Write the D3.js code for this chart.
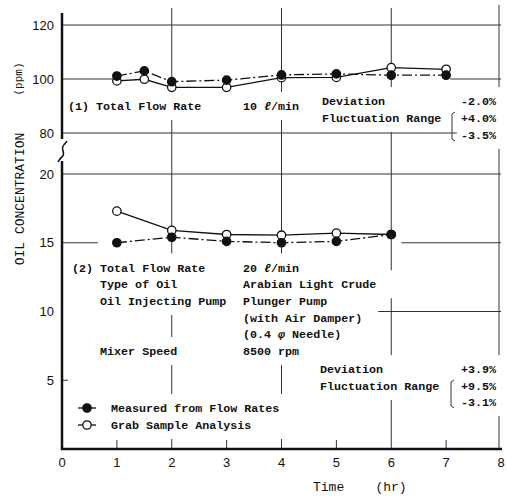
<!DOCTYPE html>
<html lang="en">
<head>
<meta charset="UTF-8">
<title>Oil Concentration</title>
<style>
  body { margin: 0; background: #fff; }
  svg { display: block; }
  .note { font-family: "Liberation Mono", "DejaVu Sans Mono", monospace; font-size: 11.7px; font-weight: bold; fill: #111; white-space: pre; }
  .tick { font-family: "Liberation Sans", Arial, sans-serif; font-size: 13px; fill: #111; }
  .label { font-family: "Liberation Mono", "DejaVu Sans Mono", monospace; font-size: 13px; fill: #111; white-space: pre; }
</style>
<script src="https://cdn.jsdelivr.net/npm/d3@7/dist/d3.min.js"></script>
</head>
<body>
<svg id="chart" width="507" height="497"></svg>
<script>
// upper panel (1): 10 l/min
var hoursTop = [1, 1.5, 2, 3, 4, 5, 6, 7];
var measuredTop = [101.1, 103.0, 99.0, 99.6, 101.5, 101.9, 101.4, 101.4];
var grabTop = [99.3, 99.9, 96.9, 96.9, 100.5, 100.6, 104.2, 103.6];

// lower panel (2): 20 l/min
var hoursBottom = [1, 2, 3, 4, 5, 6];
var measuredBottom = [15.0, 15.4, 15.1, 15.0, 15.1, 15.6];
var grabBottom = [17.3, 15.9, 15.6, 15.55, 15.7, 15.6];

var timeTicks = [0, 1, 2, 3, 4, 5, 6, 7, 8];
var topTicks = [80, 100, 120];
var bottomTicks = [5, 10, 15, 20];
var gridHours = [2, 4, 6];
var minorHours = [1, 3, 5, 7];

var legendNames = ["Measured from Flow Rates", "Grab Sample Analysis"];

var svg = d3.select("#chart");
var x = d3.scaleLinear().domain([0, 8]).range([62, 501]);
var yTop = d3.scaleLinear().domain([80, 120]).range([133, 25]);
var yBot = d3.scaleLinear().domain([0, 20]).range([449, 174]);

var gGrid = svg.append("g").attr("stroke", "#333").attr("stroke-width", 1);
var gMask = svg.append("g").attr("fill", "#fff");
var gAxis = svg.append("g").attr("stroke", "#111");
var gData = svg.append("g");
var gText = svg.append("g");

function hline(y, x0, x1) {
  gGrid.append("line").attr("x1", x0).attr("x2", x1).attr("y1", y).attr("y2", y);
}

// horizontal grid
hline(yTop(120), x(0), x(8));
hline(yTop(80), x(0), x(8));
hline(yTop(100), x(0), x(hoursTop[0]) - 4);
hline(yTop(100), x(hoursTop[hoursTop.length - 1]) + 4, x(8));
hline(yBot(20), x(0), x(8));
hline(yBot(15), x(0), x(hoursBottom[0]) - 19);
hline(yBot(15), x(hoursBottom[hoursBottom.length - 1]) + 10, x(8));
hline(yBot(10), x(0), x(8));
hline(yBot(5), x(0), x(0) + 6);

// vertical grid + right border
gridHours.forEach(function(h) {
  gGrid.append("line").attr("x1", x(h)).attr("x2", x(h)).attr("y1", 8).attr("y2", yBot(0));
});
gGrid.append("line").attr("x1", x(8) - 2).attr("x2", x(8) - 2).attr("y1", 5).attr("y2", yBot(0));
minorHours.forEach(function(h) {
  gGrid.append("line").attr("x1", x(h)).attr("x2", x(h)).attr("y1", yBot(0) - 9).attr("y2", yBot(0));
});

// notes with white backing boxes
function note(px, py, str, anchor, padX) {
  var t = gText.append("text").attr("class", "note")
    .attr("x", px).attr("y", py).attr("dy", "0.35em")
    .attr("text-anchor", anchor || "start");
  str.split("_").forEach(function(part, i) {
    t.append("tspan").attr("font-style", i % 2 ? "italic" : null).text(part);
  });
  var b = t.node().getBBox();
  var p = padX == null ? 14 : padX;
  gMask.append("rect").attr("x", b.x - p).attr("y", py - 14)
    .attr("width", b.width + 2 * p).attr("height", 28);
}

note(68, 106, "(1) Total Flow Rate");
note(243, 106, "10 _ℓ_/min");
note(322, 101, "Deviation");
note(322, 118, "Fluctuation Range");
note(496, 101, "-2.0%", "end", 4);
note(496, 118, "+4.0%", "end", 4);
note(496, 135, "-3.5%", "end", 4);

var rowsBottom = [
  ["(2) Total Flow Rate", "20 _ℓ_/min"],
  ["    Type of Oil", "Arabian Light Crude"],
  ["    Oil Injecting Pump", "Plunger Pump"],
  ["", "(with Air Damper)"],
  ["", "(0.4 _φ_ Needle)"],
  ["    Mixer Speed", "8500 rpm"]
];
rowsBottom.forEach(function(r, i) {
  var py = 267.5 + i * 16.7;
  if (r[0]) note(72, py, r[0]);
  note(243, py, r[1], "start", 16);
});

note(320, 369, "Deviation");
note(320, 386, "Fluctuation Range");
note(496, 369, "+3.9%", "end", 4);
note(496, 386, "+9.5%", "end", 4);
note(496, 402, "-3.1%", "end", 4);

// brackets
function bracket(bx, y0, y1) {
  gText.append("path")
    .attr("d", "M" + (bx + 3) + "," + y0 + " L" + bx + "," + (y0 + 2) + " L" + bx + "," + (y1 - 2) + " L" + (bx + 3) + "," + y1)
    .attr("fill", "none").attr("stroke", "#333").attr("stroke-width", 1);
}
bracket(452, 112, 141);
bracket(451, 380, 408);

// legend
legendNames.forEach(function(name, i) {
  var ly = 408 + i * 17;
  var lg = gText.append("g");
  lg.append("rect").attr("x", 70).attr("y", ly - 9).attr("width", 215).attr("height", 18).attr("fill", "#fff");
  lg.append("line").attr("x1", 78).attr("x2", 96).attr("y1", ly).attr("y2", ly).attr("stroke", "#111").attr("stroke-width", 1.3);
  lg.append("circle").attr("cx", 87).attr("cy", ly).attr("r", 4.2)
    .attr("fill", i === 0 ? "#111" : "#fff").attr("stroke", "#111").attr("stroke-width", 1.3);
  lg.append("text").attr("class", "note").attr("x", 111).attr("y", ly).attr("dy", "0.35em").text(name);
});
gMask.append("rect").attr("x", 70).attr("y", 394).attr("width", 215).attr("height", 45);

// axes
gAxis.append("line").attr("x1", x(0)).attr("x2", x(0)).attr("y1", 13).attr("y2", 139).attr("stroke-width", 2.5);
gAxis.append("line").attr("x1", x(0)).attr("x2", x(0)).attr("y1", 161).attr("y2", yBot(0) + 1).attr("stroke-width", 2.5);
gAxis.append("path").attr("d", "M58,162 C61,156 65,157 63,151 S65,145 67,141")
  .attr("fill", "none").attr("stroke-width", 1.6);
gAxis.append("line").attr("x1", x(0) - 1).attr("x2", x(8) + 1).attr("y1", yBot(0)).attr("y2", yBot(0)).attr("stroke-width", 2.5);

// tick labels
gText.selectAll(".yt1").data(topTicks).enter().append("text").attr("class", "tick")
  .attr("x", 54).attr("y", function(d) { return yTop(d); }).attr("dy", "0.36em")
  .attr("text-anchor", "end").text(function(d) { return d; });
gText.selectAll(".yt2").data(bottomTicks).enter().append("text").attr("class", "tick")
  .attr("x", 54).attr("y", function(d) { return yBot(d); }).attr("dy", "0.36em")
  .attr("text-anchor", "end").text(function(d) { return d; });
gText.selectAll(".xt").data(timeTicks).enter().append("text").attr("class", "tick")
  .attr("x", function(d) { return x(d); }).attr("y", 462).attr("dy", "0.36em")
  .attr("text-anchor", "middle").text(function(d) { return d; });

// axis titles
gText.append("text").attr("class", "label").attr("transform", "translate(19,199) rotate(-90)")
  .attr("text-anchor", "middle").attr("dy", "0.35em").text("OIL CONCENTRATION");
gText.append("text").attr("class", "label").attr("transform", "translate(18,79) rotate(-90)")
  .attr("text-anchor", "middle").attr("dy", "0.35em").style("font-size", "11px").text("(ppm)");
gText.append("text").attr("class", "label").attr("x", 313).attr("y", 486).attr("dy", "0.35em").text("Time    (hr)");

// data series
function series(hours, vals, y, filled) {
  var pts = hours.map(function(h, i) { return [x(h), y(vals[i])]; });
  gData.append("path").attr("d", d3.line()(pts))
    .attr("fill", "none").attr("stroke", "#111").attr("stroke-width", 1.3)
    .attr("stroke-dasharray", filled ? "10,3,2,3" : null);
  gData.selectAll(null).data(pts).enter().append("circle")
    .attr("cx", function(d) { return d[0]; }).attr("cy", function(d) { return d[1]; })
    .attr("r", 4.2).attr("fill", filled ? "#111" : "#fff")
    .attr("stroke", "#111").attr("stroke-width", 1.3);
}
series(hoursTop, grabTop, yTop, false);
series(hoursTop, measuredTop, yTop, true);
series(hoursBottom, grabBottom, yBot, false);
series(hoursBottom, measuredBottom, yBot, true);
</script>
</body>
</html>
